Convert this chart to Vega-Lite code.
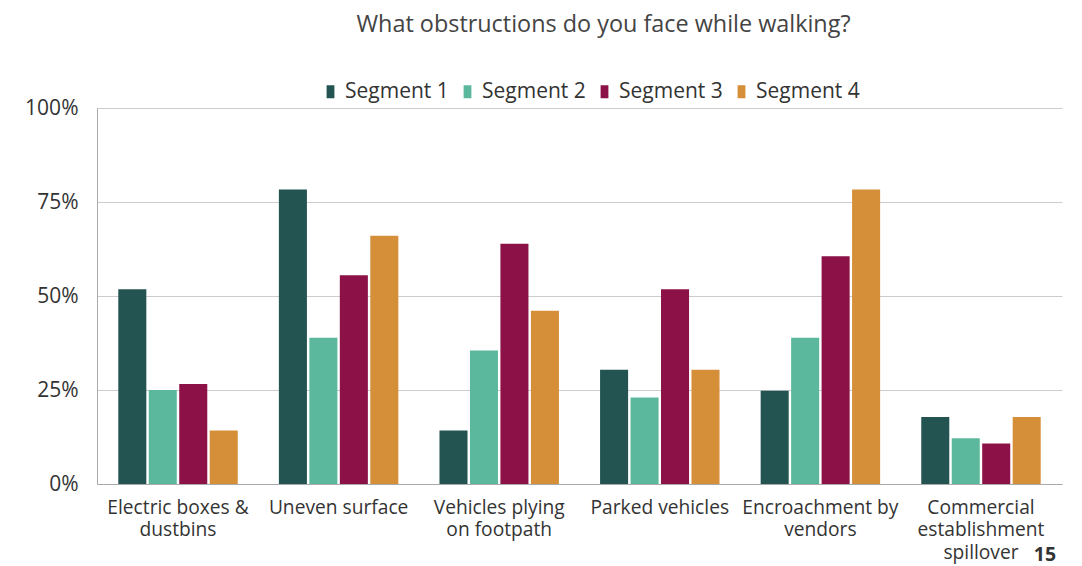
{
  "$schema": "https://vega.github.io/schema/vega-lite/v6.json",
  "width": 965,
  "height": 376,
  "autosize": {"type": "none"},
  "padding": {"left": 97, "top": 108, "right": 20, "bottom": 82},
  "background": "white",
  "config": {
    "font": "Open Sans",
    "view": {"stroke": null},
    "axis": {"labelColor": "#333333", "grid": false, "ticks": false}
  },
  "title": {
    "text": "What obstructions do you face while walking?",
    "fontSize": 23.4,
    "fontWeight": "normal",
    "color": "#444444",
    "anchor": "middle",
    "dx": 24,
    "offset": 44,
    "font": "Open Sans"
  },
  "datasets": {
    "bars": [
      {"category": "Electric boxes &|dustbins", "segment": "Segment 1", "value": 51.8},
      {"category": "Electric boxes &|dustbins", "segment": "Segment 2", "value": 25.0},
      {"category": "Electric boxes &|dustbins", "segment": "Segment 3", "value": 26.6},
      {"category": "Electric boxes &|dustbins", "segment": "Segment 4", "value": 14.2},
      {"category": "Uneven surface", "segment": "Segment 1", "value": 78.3},
      {"category": "Uneven surface", "segment": "Segment 2", "value": 38.9},
      {"category": "Uneven surface", "segment": "Segment 3", "value": 55.5},
      {"category": "Uneven surface", "segment": "Segment 4", "value": 66.0},
      {"category": "Vehicles plying|on footpath", "segment": "Segment 1", "value": 14.2},
      {"category": "Vehicles plying|on footpath", "segment": "Segment 2", "value": 35.5},
      {"category": "Vehicles plying|on footpath", "segment": "Segment 3", "value": 63.9},
      {"category": "Vehicles plying|on footpath", "segment": "Segment 4", "value": 46.1},
      {"category": "Parked vehicles", "segment": "Segment 1", "value": 30.4},
      {"category": "Parked vehicles", "segment": "Segment 2", "value": 23.0},
      {"category": "Parked vehicles", "segment": "Segment 3", "value": 51.8},
      {"category": "Parked vehicles", "segment": "Segment 4", "value": 30.4},
      {"category": "Encroachment by|vendors", "segment": "Segment 1", "value": 24.8},
      {"category": "Encroachment by|vendors", "segment": "Segment 2", "value": 38.9},
      {"category": "Encroachment by|vendors", "segment": "Segment 3", "value": 60.6},
      {"category": "Encroachment by|vendors", "segment": "Segment 4", "value": 78.3},
      {"category": "Commercial|establishment|spillover", "segment": "Segment 1", "value": 17.8},
      {"category": "Commercial|establishment|spillover", "segment": "Segment 2", "value": 12.2},
      {"category": "Commercial|establishment|spillover", "segment": "Segment 3", "value": 10.8},
      {"category": "Commercial|establishment|spillover", "segment": "Segment 4", "value": 17.8}
    ],
    "page": [{"label": "15"}]
  },
  "layer": [
    {
      "data": {"name": "bars"},
      "mark": {"type": "bar"},
      "encoding": {
        "x": {
          "field": "category",
          "type": "nominal",
          "sort": null,
          "scale": {"paddingInner": 0.241, "paddingOuter": 0.125},
          "axis": {
            "title": null,
            "labelAngle": 0,
            "labelFontSize": 19.2,
            "labelPadding": 14,
            "labelLineHeight": 22.5,
            "labelExpr": "split(datum.label, '|')",
            "domainColor": "#aaaaaa",
            "labelLimit": 300
          }
        },
        "xOffset": {
          "field": "segment",
          "type": "nominal",
          "scale": {"paddingInner": 0.08, "paddingOuter": 0.04}
        },
        "y": {
          "field": "value",
          "type": "quantitative",
          "scale": {"domain": [0, 100], "nice": false},
          "axis": {
            "title": null,
            "values": [0, 25, 50, 75, 100],
            "labelExpr": "datum.value + '%'",
            "labelFontSize": 21,
            "labelPadding": 19,
            "grid": true,
            "gridColor": "#cccccc",
            "domainColor": "#aaaaaa"
          }
        },
        "color": {
          "field": "segment",
          "type": "nominal",
          "scale": {
            "domain": ["Segment 1", "Segment 2", "Segment 3", "Segment 4"],
            "range": ["#235452", "#5cb89c", "#8c1146", "#d58f38"]
          },
          "legend": {
            "title": null,
            "orient": "none",
            "direction": "horizontal",
            "legendX": 223,
            "legendY": -27,
            "labelFontSize": 21,
            "labelColor": "#333333",
            "symbolType": "M-0.6,-1L0.6,-1L0.6,1L-0.6,1Z",
            "symbolSize": 169,
            "symbolOpacity": 1,
            "labelOffset": 4,
            "columnPadding": 8
          }
        }
      }
    },
    {
      "data": {"name": "page"},
      "mark": {"type": "text", "fontSize": 19.5, "fontWeight": "bold", "color": "#333333", "dx": 64, "baseline": "middle"},
      "encoding": {
        "x": {"datum": "Commercial|establishment|spillover", "type": "nominal"},
        "y": {"datum": -18.9, "type": "quantitative"},
        "text": {"field": "label"}
      }
    }
  ]
}
